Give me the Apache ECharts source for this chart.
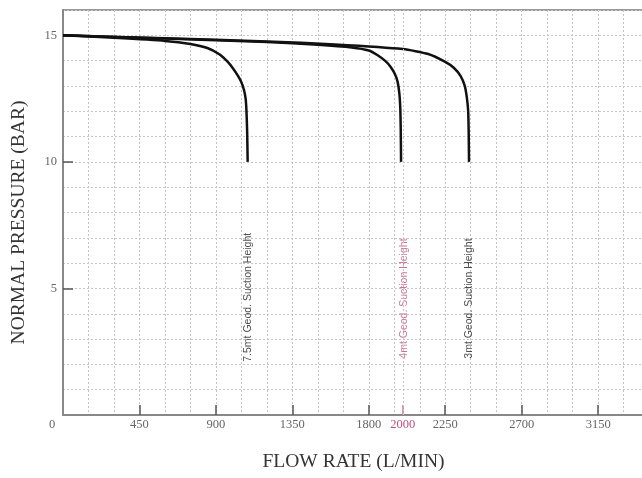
<!DOCTYPE html>
<html>
<head>
<meta charset="utf-8">
<script src="https://cdn.jsdelivr.net/npm/echarts@6/dist/echarts.min.js"></script>
<style>
html,body{margin:0;padding:0;background:#fff;}
#chart{width:642px;height:478px;}
</style>
</head>
<body>
<div id="chart"></div>
<script>
// Curve data: [flow rate (L/min), pressure (bar)]
var curve75 = [[0,15],[300,14.9],[600,14.78],[750,14.66],[850,14.5],[920,14.25],[970,13.95],[1000,13.7],[1030,13.4],[1050,13.15],[1065,12.85],[1075,12.5],[1080,12.0],[1084,11.2],[1087,10]];
var curve4 = [[0,15],[600,14.87],[1200,14.74],[1500,14.63],[1700,14.52],[1800,14.4],[1850,14.22],[1900,13.97],[1930,13.74],[1955,13.45],[1970,13.15],[1980,12.7],[1985,12.2],[1988,11.3],[1990,10]];
var curve3 = [[0,15],[600,14.88],[1200,14.76],[1600,14.64],[2000,14.46],[2150,14.26],[2250,13.95],[2300,13.72],[2340,13.4],[2365,13.0],[2378,12.5],[2385,12.0],[2388,11.2],[2390,10]];
var curveNames = ['7.5mt Geod. Suction Height','4mt Geod. Suction Height','3mt Geod. Suction Height'];
var curveLabelAnchors = [[1090,4.65],[2005,4.6],[2390,4.6]];
var xTickLabels = [0,450,900,1350,1800,2250,2700,3150];
var xHighlight = [2000];
var yTickLabels = [5,10,15];

var serif = '"Liberation Serif","DejaVu Serif",serif';
var sans = '"Liberation Sans","DejaVu Sans",sans-serif';
var chart = echarts.init(document.getElementById('chart'));

function labelSeries(i, color){
  return {
    type:'scatter', xAxisIndex:0, yAxisIndex:0, symbolSize:0, silent:true,
    data:[curveLabelAnchors[i]],
    label:{show:true, position:'inside', rotate:90, formatter:curveNames[i],
      fontFamily:sans, fontSize:10.5, color:color}
  };
}
function lineSeries(d){
  return {type:'line', xAxisIndex:0, yAxisIndex:0, data:d, showSymbol:false, smooth:0.2,
    lineStyle:{color:'#111', width:2.5}, silent:true};
}

var gridLine = {show:true, lineStyle:{color:'#c4c4c4', type:[2,2], width:1}};
var option = {
  backgroundColor:'#fff',
  animation:false,
  grid:{left:63, right:-2, top:10, bottom:63, outerBoundsMode:'none', containLabel:false,
    show:true, borderColor:'#999', borderWidth:2, backgroundColor:'transparent'},
  xAxis:[
    {type:'value', min:0, max:3420, interval:150,
     axisLine:{show:true, onZero:false, lineStyle:{color:'#888', width:2}},
     axisTick:{show:false}, axisLabel:{show:false}, splitLine:gridLine,
     name:'FLOW RATE (L/MIN)', nameLocation:'middle', nameGap:37,
     nameTextStyle:{fontFamily:serif, fontSize:19.5, color:'#333'}},
    {type:'value', min:0, max:3420, interval:450, position:'bottom',
     axisLine:{show:false}, splitLine:{show:false},
     axisTick:{show:true, inside:true, length:10, lineStyle:{color:'#555', width:1.5},
       customValues:xTickLabels.slice(1)},
     axisLabel:{show:true, margin:3, fontFamily:serif, fontSize:12.5, color:'#666',
       customValues:xTickLabels,
       formatter:function(v){ return v===0 ? '{z|0}' : String(v); },
       rich:{z:{padding:[0,22,0,0], fontFamily:serif, fontSize:12.5, color:'#666'}}}},
    {type:'value', min:0, max:3420, position:'bottom',
     axisLine:{show:false}, splitLine:{show:false},
     axisTick:{show:true, inside:true, length:10, lineStyle:{color:'#d07090', width:1.5}, customValues:xHighlight},
     axisLabel:{show:true, margin:3, fontFamily:serif, fontSize:12.5, color:'#c0507a', customValues:xHighlight,
       formatter:function(v){ return String(v); }}}
  ],
  yAxis:[
    {type:'value', min:0, max:16, interval:1,
     axisLine:{show:true, onZero:false, lineStyle:{color:'#888', width:2}},
     axisTick:{show:false}, axisLabel:{show:false}, splitLine:gridLine,
     name:'NORMAL PRESSURE (BAR)', nameLocation:'middle', nameGap:34, nameRotate:90,
     nameTextStyle:{fontFamily:serif, fontSize:19.5, color:'#333', padding:[0,20,0,0]}},
    {type:'value', min:0, max:16, position:'left',
     axisLine:{show:false}, splitLine:{show:false},
     axisTick:{show:true, inside:true, length:10, lineStyle:{color:'#555', width:1.5}, customValues:yTickLabels},
     axisLabel:{show:true, margin:6, fontFamily:serif, fontSize:12.5, color:'#666', customValues:yTickLabels}}
  ],
  series:[
    lineSeries(curve75), lineSeries(curve4), lineSeries(curve3),
    {type:'line', data:[], markLine:{silent:true, symbol:'none', label:{show:false},
      lineStyle:{color:'#c4c4c4', type:[2,2], width:1}, data:[{xAxis:xHighlight[0]}]}},
    labelSeries(0,'#222'), labelSeries(1,'#c0507a'), labelSeries(2,'#222')
  ]
};
chart.setOption(option);
</script>
</body>
</html>
